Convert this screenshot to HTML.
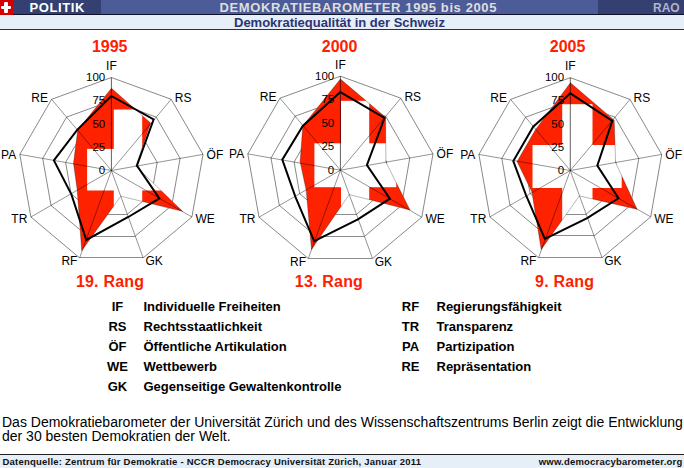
<!DOCTYPE html>
<html><head><meta charset="utf-8"><title>Demokratiebarometer</title>
<style>
*{margin:0;padding:0;box-sizing:border-box}
html,body{width:684px;height:468px;overflow:hidden;background:#fff}
body{position:relative;font-family:"Liberation Sans",sans-serif;color:#000}
.bar{position:absolute;left:0;top:0;width:684px;height:14px;background:#4c5c98}
.navL{position:absolute;left:13px;top:0;width:88px;height:14px;background:#343f72}
.navR{position:absolute;left:598px;top:0;width:86px;height:14px;background:#343f72}
.flag{position:absolute;left:0;top:0;width:13px;height:15px;background:#d20000}
.flag i{position:absolute;background:#fff}
.hl1{position:absolute;left:13px;top:14px;width:671px;height:1px;background:#0e1228}
.band{position:absolute;left:0;top:15px;width:684px;height:14px;background:#e6eef8}
.hl2{position:absolute;left:0;top:29px;width:684px;height:1px;background:#303030}
.t1{position:absolute;left:219.5px;top:0.5px;font-weight:bold;font-size:13px;letter-spacing:0.6px;line-height:14px;color:#dedede;white-space:nowrap}
.pol{position:absolute;left:29.5px;top:0.5px;font-weight:bold;font-size:13px;letter-spacing:0.6px;line-height:14px;color:#fff}
.rao{position:absolute;left:653px;top:0.9px;font-weight:bold;font-size:12px;line-height:14px;color:#b0b4cc}
.t2{position:absolute;left:234px;top:15.8px;font-weight:bold;font-size:13px;line-height:14px;color:#2c3572;white-space:nowrap}
.ch{position:absolute;left:0;top:0}
.vl{position:absolute;font-size:11.5px;line-height:13px;white-space:nowrap}
.al{position:absolute;font-size:12px;line-height:14px;white-space:nowrap}
.yr{position:absolute;width:100px;text-align:center;font-weight:bold;font-size:16px;line-height:18px;color:#ff2000}
.rk{position:absolute;white-space:nowrap;font-weight:bold;font-size:16px;letter-spacing:0.2px;line-height:18px;color:#ff2000}
.lg{position:absolute;font-weight:bold;font-size:13px;line-height:14px;white-space:nowrap}
.txt{position:absolute;left:2px;top:416px;width:684px;font-size:14px;line-height:13.6px;white-space:nowrap}
.fl{position:absolute;left:0;top:454px;width:684px;height:1px;background:#222}
.fb{position:absolute;left:0;top:455px;width:684px;height:13px;background:#e6eef8}
.fq{position:absolute;left:2.5px;top:455.6px;font-weight:bold;font-size:9.5px;letter-spacing:0.22px;line-height:11px;white-space:nowrap;color:#111}
.fw{position:absolute;right:1.6px;top:455.6px;font-weight:bold;font-size:9.5px;letter-spacing:0.2px;line-height:11px;white-space:nowrap;color:#111}
</style></head><body>
<div class="bar"></div><div class="navL"></div><div class="navR"></div>
<div class="hl1"></div>
<div class="band"></div><div class="hl2"></div>
<div class="flag"><i style="left:1px;top:6.2px;width:10px;height:3px;border-radius:1px"></i><i style="left:4.4px;top:2.2px;width:3.3px;height:10.8px;border-radius:1px"></i></div>
<div class="pol">POLITIK</div>
<div class="t1">DEMOKRATIEBAROMETER 1995 bis 2005</div>
<div class="rao">RAO</div>
<div class="t2">Demokratiequalität in der Schweiz</div>
<svg class="ch" width="684" height="468" viewBox="0 0 684 468"><g fill="none" stroke="#7a7a7a" stroke-width="0.9"><polyline points="103.4,192.3 91.3,182.1 88.5,166.5 96.5,152.7 111.4,147.2 126.3,152.7 134.3,166.5 131.5,182.1 119.4,192.3"/><polyline points="95.5,214.2 71.1,193.8 65.6,162.4 81.5,134.9 111.4,124.0 141.3,134.9 157.2,162.4 151.7,193.8 127.3,214.2"/><polyline points="87.5,236.0 51.0,205.4 42.7,158.4 66.6,117.1 111.4,100.8 156.2,117.1 180.1,158.4 171.8,205.4 135.3,236.0"/><polyline points="79.6,257.9 30.9,217.0 19.8,154.4 51.6,99.3 111.4,77.5 171.2,99.3 203.0,154.4 191.9,217.0 143.2,257.9"/></g>
<g fill="none" stroke="#8c8c8c" stroke-width="1"><line x1="103.4" y1="192.5" x2="119.4" y2="192.5"/><line x1="95.5" y1="214.5" x2="127.3" y2="214.5"/><line x1="87.5" y1="236.5" x2="135.3" y2="236.5"/><line x1="79.6" y1="257.5" x2="143.2" y2="257.5"/></g>
<polygon points="111.5,88.2 150.6,122.9 135.9,166.2 182.5,211.3 120.8,196.2 81.7,250.8 77.2,189.8 73.5,163.3 77.7,130.1" fill="#fff"/>
<mask id="mk0" maskUnits="userSpaceOnUse" x="0" y="0" width="684" height="468"><rect width="684" height="468" fill="#fff"/><g fill="#000"><rect x="113.8" y="109.5" width="28.4" height="120.4"/><rect x="87.1" y="148.9" width="81.8" height="41.6"/></g></mask>
<polygon points="111.5,88.2 150.6,122.9 135.9,166.2 182.5,211.3 120.8,196.2 81.7,250.8 77.2,189.8 73.5,163.3 77.7,130.1" fill="#ff2200" mask="url(#mk0)"/>
<polygon points="111.5,88.2 150.6,122.9 135.9,166.2 182.5,211.3 120.8,196.2 81.7,250.8 77.2,189.8 73.5,163.3 77.7,130.1" fill="none" stroke="#000" stroke-opacity="0.4" stroke-width="0.7"/>
<g stroke="#000" stroke-opacity="0.42" stroke-width="1"><line x1="111.4" y1="170.5" x2="171.2" y2="99.3"/><line x1="111.4" y1="170.5" x2="203.0" y2="154.4"/><line x1="111.4" y1="170.5" x2="191.9" y2="217.0"/><line x1="111.4" y1="170.5" x2="143.2" y2="257.9"/><line x1="111.4" y1="170.5" x2="79.6" y2="257.9"/><line x1="111.4" y1="170.5" x2="30.9" y2="217.0"/><line x1="111.4" y1="170.5" x2="19.8" y2="154.4"/><line x1="111.4" y1="170.5" x2="51.6" y2="99.3"/></g>
<line x1="111.4" y1="170.5" x2="111.4" y2="77.5" stroke="#000" stroke-opacity="0.62" stroke-width="1"/>
<polygon points="111.4,96.0 153.6,119.5 136.9,165.6 159.4,198.4 128.3,217.0 86.3,240.0 71.4,194.4 53.9,160.4 77.4,129.6" fill="none" stroke="#000" stroke-width="2" stroke-linejoin="miter"/>
<g fill="none" stroke="#7a7a7a" stroke-width="0.9"><polyline points="332.4,192.3 320.0,181.9 317.3,166.1 325.3,152.2 340.4,146.7 355.5,152.2 363.5,166.1 360.8,181.9 348.4,192.3"/><polyline points="324.3,214.4 299.7,193.7 294.1,162.0 310.2,134.2 340.4,123.2 370.6,134.2 386.7,162.0 381.1,193.7 356.5,214.4"/><polyline points="316.3,236.4 279.3,205.4 271.0,158.0 295.1,116.2 340.4,99.7 385.7,116.2 409.8,158.0 401.5,205.4 364.5,236.4"/><polyline points="308.3,258.5 259.0,217.2 247.8,153.9 280.0,98.2 340.4,76.2 400.8,98.2 433.0,153.9 421.8,217.2 372.5,258.5"/></g>
<g fill="none" stroke="#8c8c8c" stroke-width="1"><line x1="332.4" y1="192.5" x2="348.4" y2="192.5"/><line x1="324.3" y1="214.5" x2="356.5" y2="214.5"/><line x1="316.3" y1="236.5" x2="364.5" y2="236.5"/><line x1="308.3" y1="258.5" x2="372.5" y2="258.5"/></g>
<polygon points="340.4,79.0 385.6,117.3 385.9,162.1 410.0,210.0 349.2,194.5 311.5,249.6 306.2,190.3 300.1,161.7 302.8,125.9" fill="#fff"/>
<mask id="mk1" maskUnits="userSpaceOnUse" x="0" y="0" width="684" height="468"><rect width="684" height="468" fill="#fff"/><g fill="#000"><rect x="341" y="100.8" width="28.2" height="128.9"/><rect x="314.4" y="143.3" width="81.9" height="43.9"/></g></mask>
<polygon points="340.4,79.0 385.6,117.3 385.9,162.1 410.0,210.0 349.2,194.5 311.5,249.6 306.2,190.3 300.1,161.7 302.8,125.9" fill="#ff2200" mask="url(#mk1)"/>
<polygon points="340.4,79.0 385.6,117.3 385.9,162.1 410.0,210.0 349.2,194.5 311.5,249.6 306.2,190.3 300.1,161.7 302.8,125.9" fill="none" stroke="#000" stroke-opacity="0.4" stroke-width="0.7"/>
<g stroke="#000" stroke-opacity="0.42" stroke-width="1"><line x1="340.4" y1="170.2" x2="400.8" y2="98.2"/><line x1="340.4" y1="170.2" x2="433.0" y2="153.9"/><line x1="340.4" y1="170.2" x2="421.8" y2="217.2"/><line x1="340.4" y1="170.2" x2="372.5" y2="258.5"/><line x1="340.4" y1="170.2" x2="308.3" y2="258.5"/><line x1="340.4" y1="170.2" x2="259.0" y2="217.2"/><line x1="340.4" y1="170.2" x2="247.8" y2="153.9"/><line x1="340.4" y1="170.2" x2="280.0" y2="98.2"/></g>
<line x1="340.4" y1="170.2" x2="340.4" y2="76.2" stroke="#000" stroke-opacity="0.62" stroke-width="1"/>
<polygon points="340.4,92.1 384.5,118.0 366.9,165.1 389.9,198.6 357.9,219.4 314.2,241.2 295.5,197.2 282.3,159.7 302.8,125.9" fill="none" stroke="#000" stroke-width="2" stroke-linejoin="miter"/>
<g fill="none" stroke="#7a7a7a" stroke-width="0.9"><polyline points="562.4,192.3 550.2,182.1 547.5,166.5 555.4,152.7 570.3,147.3 585.2,152.7 593.1,166.5 590.4,182.1 578.2,192.3"/><polyline points="554.4,214.1 530.1,193.7 524.6,162.4 540.5,135.0 570.3,124.1 600.1,135.0 616.0,162.4 610.5,193.7 586.2,214.1"/><polyline points="546.5,235.9 510.0,205.3 501.8,158.4 525.6,117.2 570.3,100.9 615.0,117.2 638.8,158.4 630.6,205.3 594.1,235.9"/><polyline points="538.6,257.7 489.9,216.9 478.9,154.4 510.6,99.4 570.3,77.7 630.0,99.4 661.7,154.4 650.7,216.9 602.0,257.7"/></g>
<g fill="none" stroke="#8c8c8c" stroke-width="1"><line x1="562.4" y1="192.5" x2="578.2" y2="192.5"/><line x1="554.4" y1="214.5" x2="586.2" y2="214.5"/><line x1="546.5" y1="235.5" x2="594.1" y2="235.5"/><line x1="538.6" y1="257.5" x2="602.0" y2="257.5"/></g>
<polygon points="570.4,82.7 614.2,120.2 615.6,162.5 637.1,209.3 579.4,195.9 541.2,249.5 531.9,191.9 517.1,161.6 535.3,129.9" fill="#fff"/>
<mask id="mk2" maskUnits="userSpaceOnUse" x="0" y="0" width="684" height="468"><rect width="684" height="468" fill="#fff"/><g fill="#000"><rect x="562.2" y="104.2" width="30.3" height="124.6"/><rect x="532.5" y="145" width="89.2" height="43.0"/></g></mask>
<polygon points="570.4,82.7 614.2,120.2 615.6,162.5 637.1,209.3 579.4,195.9 541.2,249.5 531.9,191.9 517.1,161.6 535.3,129.9" fill="#ff2200" mask="url(#mk2)"/>
<polygon points="570.4,82.7 614.2,120.2 615.6,162.5 637.1,209.3 579.4,195.9 541.2,249.5 531.9,191.9 517.1,161.6 535.3,129.9" fill="none" stroke="#000" stroke-opacity="0.4" stroke-width="0.7"/>
<g stroke="#000" stroke-opacity="0.42" stroke-width="1"><line x1="570.3" y1="170.5" x2="630.0" y2="99.4"/><line x1="570.3" y1="170.5" x2="661.7" y2="154.4"/><line x1="570.3" y1="170.5" x2="650.7" y2="216.9"/><line x1="570.3" y1="170.5" x2="602.0" y2="257.7"/><line x1="570.3" y1="170.5" x2="538.6" y2="257.7"/><line x1="570.3" y1="170.5" x2="489.9" y2="216.9"/><line x1="570.3" y1="170.5" x2="478.9" y2="154.4"/><line x1="570.3" y1="170.5" x2="510.6" y2="99.4"/></g>
<line x1="570.3" y1="170.5" x2="570.3" y2="77.7" stroke="#000" stroke-opacity="0.62" stroke-width="1"/>
<polygon points="570.4,93.3 612.3,120.8 597.3,165.6 618.5,198.3 587.2,218.1 544.9,238.8 526.0,195.1 513.3,161.0 533.2,126.7" fill="none" stroke="#000" stroke-width="2" stroke-linejoin="miter"/></svg>
<div class="vl" style="right:578.8px;top:164.0px">0</div>
<div class="vl" style="right:578.8px;top:140.8px">25</div>
<div class="vl" style="right:578.8px;top:117.5px">50</div>
<div class="vl" style="right:578.8px;top:94.2px">75</div>
<div class="vl" style="right:578.8px;top:71.0px">100</div>
<div class="al" style="left:91.4px;width:40px;text-align:center;top:59.0px">IF</div>
<div class="al" style="left:174.8px;top:91.1px">RS</div>
<div class="al" style="left:206.6px;top:147.7px">ÖF</div>
<div class="al" style="left:195.5px;top:212.0px">WE</div>
<div class="al" style="left:145.4px;top:253.9px">GK</div>
<div class="al" style="right:606.6px;top:253.9px">RF</div>
<div class="al" style="right:656.7px;top:212.0px">TR</div>
<div class="al" style="right:667.8px;top:147.7px">PA</div>
<div class="al" style="right:636.0px;top:91.2px">RE</div>
<div class="yr" style="left:59.7px;top:37.6px">1995</div>
<div class="rk" style="left:75.9px;top:272.5px">19. Rang</div>
<div class="vl" style="right:349.8px;top:163.7px">0</div>
<div class="vl" style="right:349.8px;top:140.2px">25</div>
<div class="vl" style="right:349.8px;top:116.7px">50</div>
<div class="vl" style="right:349.8px;top:93.2px">75</div>
<div class="vl" style="right:349.8px;top:69.7px">100</div>
<div class="al" style="left:320.4px;width:40px;text-align:center;top:57.7px">IF</div>
<div class="al" style="left:404.4px;top:90.0px">RS</div>
<div class="al" style="left:436.6px;top:147.2px">ÖF</div>
<div class="al" style="left:425.4px;top:212.2px">WE</div>
<div class="al" style="left:374.7px;top:254.5px">GK</div>
<div class="al" style="right:377.9px;top:254.5px">RF</div>
<div class="al" style="right:428.6px;top:212.2px">TR</div>
<div class="al" style="right:439.8px;top:147.2px">PA</div>
<div class="al" style="right:407.6px;top:90.1px">RE</div>
<div class="yr" style="left:289.6px;top:37.6px">2000</div>
<div class="rk" style="left:294.8px;top:272.5px">13. Rang</div>
<div class="vl" style="right:119.9px;top:164.0px">0</div>
<div class="vl" style="right:119.9px;top:140.8px">25</div>
<div class="vl" style="right:119.9px;top:117.6px">50</div>
<div class="vl" style="right:119.9px;top:94.4px">75</div>
<div class="vl" style="right:119.9px;top:71.2px">100</div>
<div class="al" style="left:550.3px;width:40px;text-align:center;top:59.2px">IF</div>
<div class="al" style="left:633.6px;top:91.2px">RS</div>
<div class="al" style="left:665.3px;top:147.7px">ÖF</div>
<div class="al" style="left:654.3px;top:211.9px">WE</div>
<div class="al" style="left:604.2px;top:253.7px">GK</div>
<div class="al" style="right:147.6px;top:253.7px">RF</div>
<div class="al" style="right:197.7px;top:211.9px">TR</div>
<div class="al" style="right:208.7px;top:147.7px">PA</div>
<div class="al" style="right:177.0px;top:91.3px">RE</div>
<div class="yr" style="left:517.6px;top:37.6px">2005</div>
<div class="rk" style="left:535.1px;top:272.5px">9. Rang</div>
<div class="lg" style="left:97px;width:41px;text-align:center;top:299.5px">IF</div><div class="lg" style="left:143.5px;top:299.5px">Individuelle Freiheiten</div>
<div class="lg" style="left:97px;width:41px;text-align:center;top:319.5px">RS</div><div class="lg" style="left:143.5px;top:319.5px">Rechtsstaatlichkeit</div>
<div class="lg" style="left:97px;width:41px;text-align:center;top:339.5px">ÖF</div><div class="lg" style="left:143.5px;top:339.5px">Öffentliche Artikulation</div>
<div class="lg" style="left:97px;width:41px;text-align:center;top:359.5px">WE</div><div class="lg" style="left:143.5px;top:359.5px">Wettbewerb</div>
<div class="lg" style="left:97px;width:41px;text-align:center;top:380.3px">GK</div><div class="lg" style="left:143.5px;top:380.3px">Gegenseitige Gewaltenkontrolle</div>
<div class="lg" style="left:390px;width:41px;text-align:center;top:299.5px">RF</div><div class="lg" style="left:436.5px;top:299.5px">Regierungsfähigkeit</div>
<div class="lg" style="left:390px;width:41px;text-align:center;top:319.5px">TR</div><div class="lg" style="left:436.5px;top:319.5px">Transparenz</div>
<div class="lg" style="left:390px;width:41px;text-align:center;top:339.5px">PA</div><div class="lg" style="left:436.5px;top:339.5px">Partizipation</div>
<div class="lg" style="left:390px;width:41px;text-align:center;top:359.5px">RE</div><div class="lg" style="left:436.5px;top:359.5px">Repräsentation</div>
<div class="txt">Das Demokratiebarometer der Universität Zürich und des Wissenschaftszentrums Berlin zeigt die Entwicklung<br>der 30 besten Demokratien der Welt.</div>
<div class="fl"></div><div class="fb"></div>
<div class="fq">Datenquelle: Zentrum für Demokratie - NCCR Democracy Universität Zürich, Januar 2011</div>
<div class="fw">www.democracybarometer.org</div>
</body></html>
